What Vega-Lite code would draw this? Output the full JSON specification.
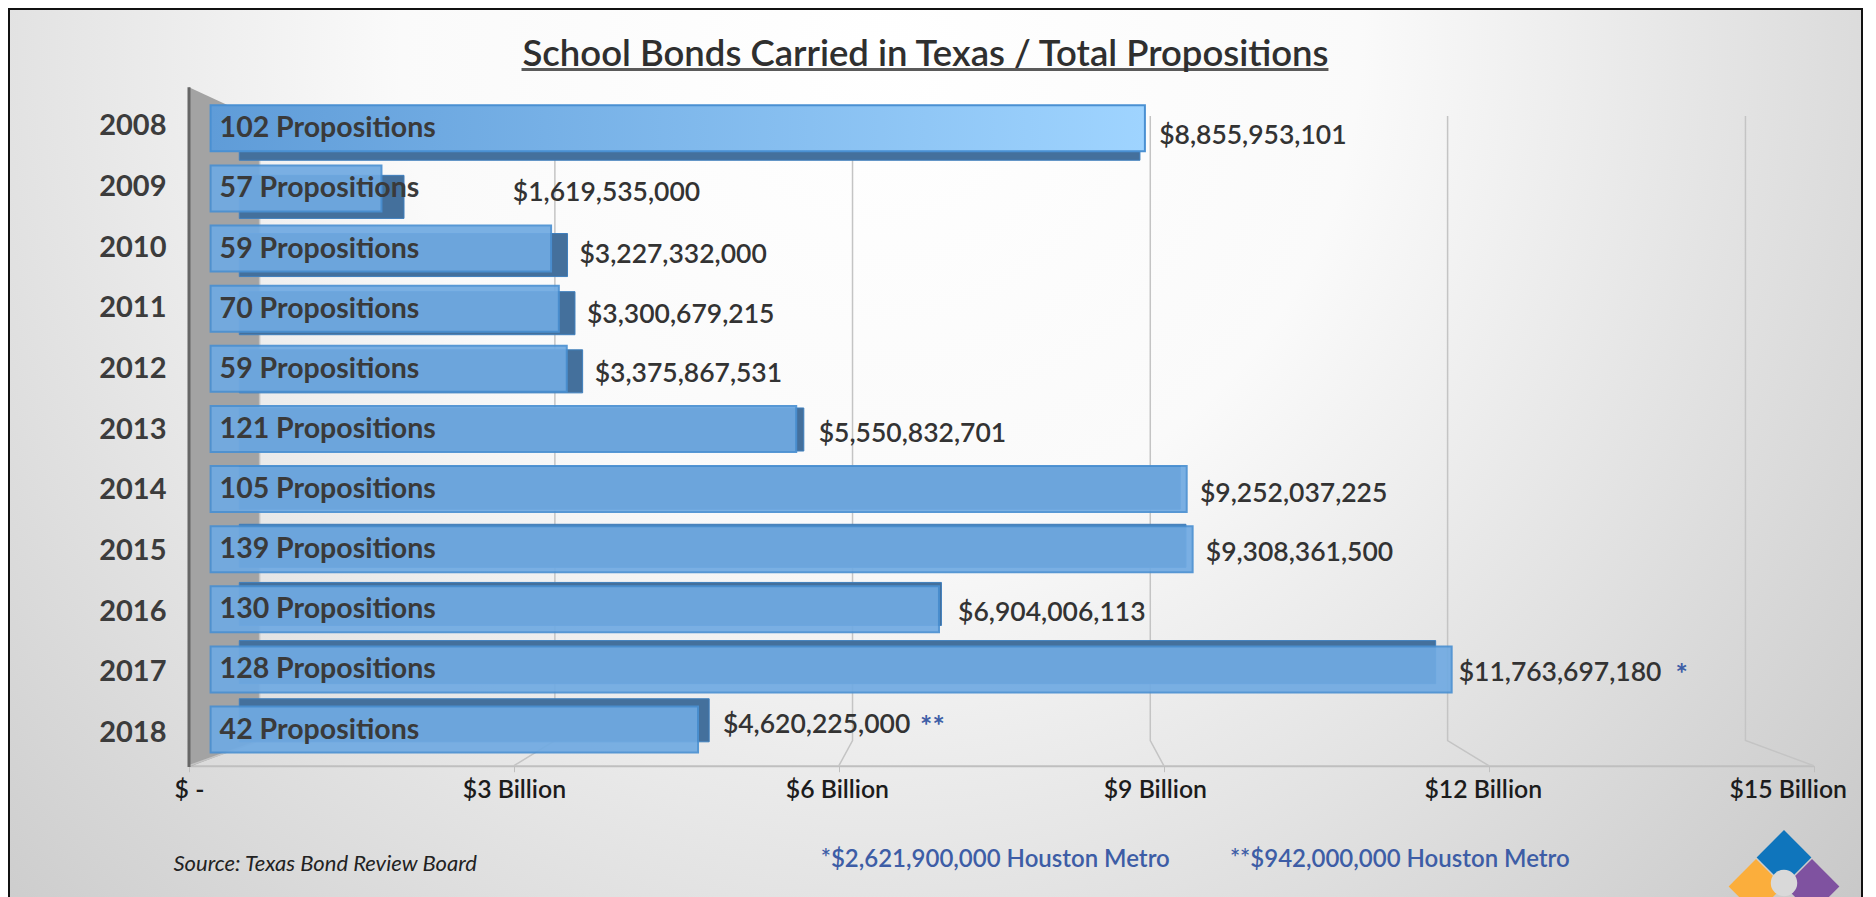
{
"$schema":"https://vega.github.io/schema/vega-lite/v6.json",
"width":1853,"height":892,
"autosize":{"type":"none"},
"padding":{"left":9,"top":9,"right":14,"bottom":0},
"background":"white",
"view":{"stroke":"#111111","strokeWidth":2,"fill":{"gradient":"radial","x1":0.47,"y1":0.28,"x2":0.47,"y2":0.28,"r1":0,"r2":0.74,"stops":[{"offset":0,"color":"#ffffff"},{"offset":0.35,"color":"#fafafa"},{"offset":1,"color":"#c4c4c4"}]}},
"config":{"font":"Lato"},
"title":{"text":"School Bonds Carried in Texas / Total Propositions","anchor":"middle","frame":"group","offset":-64,"dx":-10,"font":"Lato","fontSize":36.5,"fontWeight":600,"color":"#2f2f2f"},
"datasets":{
"bonds":[
{"year":"2008","amount":8855953101,"zero":0,"props":102},
{"year":"2009","amount":1619535000,"zero":0,"props":57},
{"year":"2010","amount":3227332000,"zero":0,"props":59},
{"year":"2011","amount":3300679215,"zero":0,"props":70},
{"year":"2012","amount":3375867531,"zero":0,"props":59},
{"year":"2013","amount":5550832701,"zero":0,"props":121},
{"year":"2014","amount":9252037225,"zero":0,"props":105},
{"year":"2015","amount":9308361500,"zero":0,"props":139},
{"year":"2016","amount":6904006113,"zero":0,"props":130},
{"year":"2017","amount":11763697180,"zero":0,"props":128,"star":"*"},
{"year":"2018","amount":4620225000,"zero":0,"props":42,"star":"**"}],
"grid":[
{"tick":0,"pos":0.652,"level":1},{"tick":0,"pos":0.652,"level":0.0387},{"tick":0,"pos":0,"level":0},
{"tick":3,"pos":3.378,"level":1},{"tick":3,"pos":3.378,"level":0.0387},{"tick":3,"pos":3,"level":0},
{"tick":6,"pos":6.126,"level":1},{"tick":6,"pos":6.126,"level":0.0387},{"tick":6,"pos":6,"level":0},
{"tick":9,"pos":8.875,"level":1},{"tick":9,"pos":8.875,"level":0.0387},{"tick":9,"pos":9,"level":0},
{"tick":12,"pos":11.62,"level":1},{"tick":12,"pos":11.62,"level":0.0387},{"tick":12,"pos":12,"level":0},
{"tick":15,"pos":14.37,"level":1},{"tick":15,"pos":14.37,"level":0.0387},{"tick":15,"pos":15,"level":0}],
"wall":[{"pos":0,"low":0,"high":1},{"pos":0.652,"low":0.039,"high":0.952}],
"footnotes":[{"note":"*$2,621,900,000 Houston Metro"},{"note":"**$942,000,000 Houston Metro"}],
"logo":[{"part":"blue","col":"b","row":"a"},{"part":"orange","col":"a","row":"b"},{"part":"purple","col":"c","row":"b"}]
},
"layer":[
{"data":{"name":"wall"},"mark":{"type":"area","orient":"vertical","color":"#a3a3a3"},
 "encoding":{"x":{"field":"pos","type":"quantitative","scale":{"domain":[0,15],"range":[180,1804.7]},"axis":null},
 "y":{"field":"low","type":"quantitative","scale":{"domain":[0,1],"range":[757.9,78.3]},"axis":null},"y2":{"field":"high"}}},
{"data":{"name":"grid"},"mark":{"type":"line","color":"#c4c4c4","strokeWidth":1.5},
 "encoding":{"x":{"field":"pos","type":"quantitative","scale":{"domain":[0,15],"range":[180,1804.7]},
   "axis":{"values":[0,3,6,9,12,15],"grid":false,"title":null,"orient":"bottom","offset":-135.3,"domainColor":"#bfbfbf","domainWidth":2,"tickColor":"#bfbfbf","tickSize":6,"labelPadding":6,"labelFont":"Lato","labelFontSize":24.8,"labelFontWeight":600,"labelColor":"#1c1c1c","labelFlush":false,"labelOverlap":false,
   "labelExpr":"datum.value==0?'$ -':'$'+datum.value+' Billion'",
   "labelOffset":{"condition":[{"test":"datum.value==15","value":-26},{"test":"datum.value==12","value":-6},{"test":"datum.value==9","value":-9},{"test":"datum.value==6","value":-2}],"value":0}}},
 "y":{"field":"level","type":"quantitative","scale":{"domain":[0,1],"range":[756.7,107]},"axis":null},
 "detail":{"field":"tick","type":"nominal"},"order":{"field":"level","type":"quantitative"}}},
{"data":{"name":"wall"},"transform":[{"filter":"datum.pos==0"}],"mark":{"type":"rule","color":"#666666","strokeWidth":3},
 "encoding":{"x":{"field":"pos","type":"quantitative","scale":{"domain":[0,15],"range":[180,1804.7]},"axis":null},
 "y":{"field":"low","type":"quantitative","scale":{"domain":[0,1],"range":[757.9,78.3]},"axis":null},"y2":{"field":"high"}}},
{"data":{"name":"bonds"},"mark":{"type":"bar","color":"#44709c","stroke":"#3f7fbd","strokeWidth":1},
 "encoding":{"x":{"field":"zero","type":"quantitative","scale":{"domain":[0,15000000000],"range":[230.3,1755.8]},"axis":null},
 "x2":{"field":"amount"},
 "y":{"field":"year","type":"nominal","scale":{"type":"band","range":[108.2,732.8],"paddingInner":0.26,"paddingOuter":0},"axis":null}}},
{"data":{"name":"bonds"},"transform":[{"filter":"datum.year!='2008'"}],"mark":{"type":"bar","color":"#70aae2","opacity":0.92,"stroke":"#4a90d2","strokeWidth":2},
 "encoding":{"x":{"field":"zero","type":"quantitative","scale":{"domain":[0,15000000000],"range":[201.6,1784.1]},"axis":null},
 "x2":{"field":"amount"},
 "y":{"field":"year","type":"nominal","scale":{"type":"band","domain":["2008","2009","2010","2011","2012","2013","2014","2015","2016","2017","2018"],"range":[96.3,743.5],"paddingInner":0.235,"paddingOuter":0},"axis":null}}},
{"data":{"name":"bonds"},"transform":[{"filter":"datum.year=='2008'"}],"mark":{"type":"bar","stroke":"#4a90d2","strokeWidth":2,"color":{"gradient":"linear","x1":0,"y1":0,"x2":1,"y2":0,"stops":[{"offset":0,"color":"#5f9cd8"},{"offset":1,"color":"#9fd4ff"}]}},
 "encoding":{"x":{"field":"zero","type":"quantitative","scale":{"domain":[0,15000000000],"range":[201.6,1784.1]},"axis":null},
 "x2":{"field":"amount"},
 "y":{"field":"year","type":"nominal","scale":{"type":"band","domain":["2008","2009","2010","2011","2012","2013","2014","2015","2016","2017","2018"],"range":[96.3,743.5],"paddingInner":0.235,"paddingOuter":0},"axis":null}}},
{"data":{"name":"bonds"},"transform":[{"calculate":"datum.props+' Propositions'","as":"label"}],"mark":{"type":"text","align":"left","baseline":"middle","dx":9,"dy":0,"font":"Lato","fontSize":28.5,"fontWeight":"bold","color":"#3a3a3a"},
 "encoding":{"x":{"field":"zero","type":"quantitative","scale":{"domain":[0,15000000000],"range":[201.6,1784.1]},"axis":null},
 "y":{"field":"year","type":"nominal","scale":{"type":"band","domain":["2008","2009","2010","2011","2012","2013","2014","2015","2016","2017","2018"],"range":[96.3,743.5],"paddingInner":0.235,"paddingOuter":0},"axis":null},
 "text":{"field":"label"}}},
{"data":{"name":"bonds"},"mark":{"type":"rule","opacity":0},
 "encoding":{"y":{"field":"year","type":"nominal","scale":{"type":"point","range":[116.8,723.4],"padding":0},
   "axis":{"orient":"left","offset":-157,"title":null,"domain":false,"ticks":false,"labelPadding":0,"labelFont":"Lato","labelFontSize":29,"labelFontWeight":"bold","labelColor":"#3c3c3c"}}}},
{"data":{"name":"bonds"},"transform":[{"filter":"datum.year!='2009' && datum.year!='2018'"}],"mark":{"type":"text","align":"left","baseline":"middle","font":"Lato","fontSize":26.5,"fontWeight":600,"color":"#333333"},
 "encoding":{"x":{"field":"amount","type":"quantitative","scale":{"domain":[0,15000000000],"range":[238,1783]},"axis":null},
 "y":{"field":"year","type":"nominal","scale":{"type":"point","domain":["2008","2009","2010","2011","2012","2013","2014","2015","2016","2017","2018"],"range":[126.5,723.5],"padding":0},"axis":null},
 "text":{"field":"amount","type":"quantitative","format":"$,.0f"}}},
{"data":{"name":"bonds"},"transform":[{"filter":"datum.year=='2009'"}],"mark":{"type":"text","align":"left","baseline":"middle","dx":99,"dy":-2,"font":"Lato","fontSize":26.5,"fontWeight":600,"color":"#333333"},
 "encoding":{"x":{"field":"amount","type":"quantitative","scale":{"domain":[0,15000000000],"range":[238,1783]},"axis":null},
 "y":{"field":"year","type":"nominal","scale":{"type":"point","domain":["2008","2009","2010","2011","2012","2013","2014","2015","2016","2017","2018"],"range":[126.5,723.5],"padding":0},"axis":null},
 "text":{"field":"amount","type":"quantitative","format":"$,.0f"}}},
{"data":{"name":"bonds"},"transform":[{"filter":"datum.year=='2018'"}],"mark":{"type":"text","align":"left","baseline":"middle","dy":-8,"font":"Lato","fontSize":26.5,"fontWeight":600,"color":"#333333"},
 "encoding":{"x":{"field":"amount","type":"quantitative","scale":{"domain":[0,15000000000],"range":[238,1783]},"axis":null},
 "y":{"field":"year","type":"nominal","scale":{"type":"point","domain":["2008","2009","2010","2011","2012","2013","2014","2015","2016","2017","2018"],"range":[126.5,723.5],"padding":0},"axis":null},
 "text":{"field":"amount","type":"quantitative","format":"$,.0f"}}},
{"data":{"name":"bonds"},"transform":[{"filter":"datum.star"}],"mark":{"type":"text","align":"left","baseline":"middle","dy":4,"font":"Lato","fontSize":29,"fontWeight":"bold","color":"#3d5da6"},
 "encoding":{"x":{"field":"amount","type":"quantitative","scale":{"domain":[0,15000000000],"range":[422.4,2008.9]},"axis":null},
 "y":{"field":"year","type":"nominal","scale":{"type":"point","domain":["2017","2018"],"range":[662,713.6],"padding":0},"axis":null},
 "text":{"field":"star"}}},
{"data":{"values":[{"start":3.07,"end":10.52,"kind":"title"}]},"mark":{"type":"rule","color":"#5a5a5a","strokeWidth":3},
 "encoding":{"x":{"field":"start","type":"quantitative","scale":{"domain":[0,15],"range":[180,1804.7]},"axis":null},"x2":{"field":"end"},
 "y":{"field":"kind","type":"nominal","scale":{"type":"point","range":[60.4,60.4],"padding":0},"axis":null}}},
{"data":{"values":[{"note":"Source: Texas Bond Review Board"}]},"mark":{"type":"text","align":"left","baseline":"middle","font":"Lato","fontSize":22,"fontStyle":"italic","color":"#222222"},
 "encoding":{"x":{"field":"note","type":"nominal","scale":{"type":"point","range":[164.5,164.5],"padding":0},"axis":null},
 "y":{"field":"note","type":"nominal","scale":{"type":"point","range":[854.8,854.8],"padding":0},"axis":null},
 "text":{"field":"note"}}},
{"data":{"name":"footnotes"},"mark":{"type":"text","align":"left","baseline":"middle","font":"Lato","fontSize":24,"fontWeight":600,"color":"#3d5da6"},
 "encoding":{"x":{"field":"note","type":"nominal","scale":{"type":"point","range":[811.7,1220.9],"padding":0},"axis":null},
 "y":{"field":"note","type":"nominal","scale":{"type":"point","range":[851,851],"padding":0},"axis":null},
 "text":{"field":"note"}}},
{"data":{"name":"logo"},"mark":{"type":"point","shape":"square","filled":true,"angle":45,"size":1500,"opacity":1},
 "encoding":{"x":{"field":"col","type":"nominal","scale":{"type":"point","domain":["a","b","c"],"range":[1747,1803],"padding":0},"axis":null},
 "y":{"field":"row","type":"nominal","scale":{"type":"point","domain":["a","b"],"range":[848.5,877.5],"padding":0},"axis":null},
 "color":{"field":"part","type":"nominal","scale":{"domain":["blue","orange","purple"],"range":["#0f75bc","#fbae3c","#7f52a0"]},"legend":null}}},
{"data":{"values":[{"part":"hole"}]},"mark":{"type":"point","shape":"circle","filled":true,"size":700,"color":"#d9d9d9","opacity":1},
 "encoding":{"x":{"field":"part","type":"nominal","scale":{"type":"point","range":[1775,1775],"padding":0},"axis":null},
 "y":{"field":"part","type":"nominal","scale":{"type":"point","range":[874,874],"padding":0},"axis":null}}}
],
"resolve":{"scale":{"x":"independent","y":"independent","color":"independent"}}
}
